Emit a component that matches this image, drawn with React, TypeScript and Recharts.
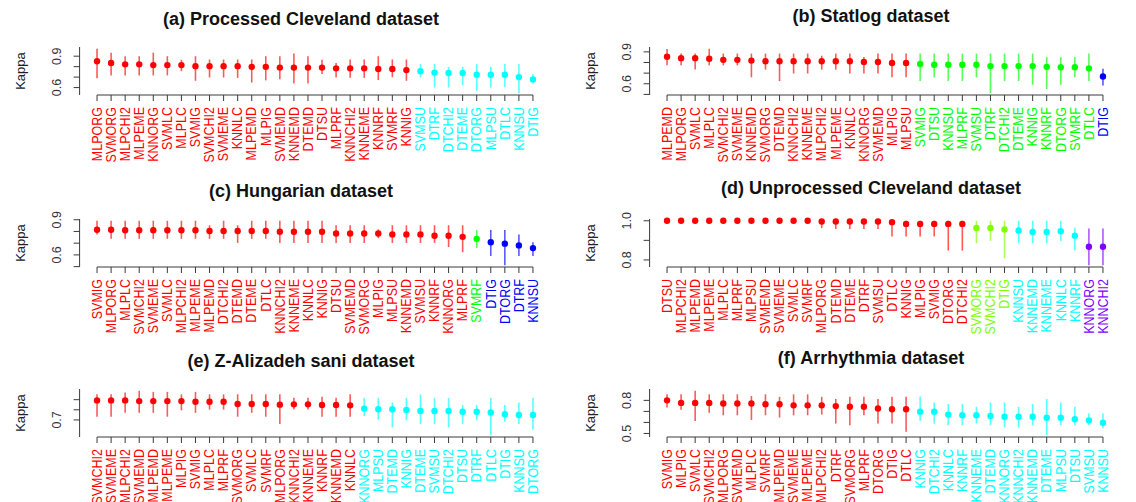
import { ScatterChart, Scatter, XAxis, YAxis, ErrorBar, ReferenceLine } from "recharts";

const FONT = "'Liberation Sans', Arial, Helvetica, sans-serif";
const AXIS = "#3a3a3a";
const RED = "#ff0000";
const GREEN = "#00ff00";
const BLUE = "#0000ff";
const CYAN = "#00ffff";
const CHARTREUSE = "#80ff00";
const PURPLE = "#8000ff";

// (a) Processed Cleveland
const namesA = ["MLPORG", "SVMORG", "MLPCHI2", "MLPEME", "KNNORG", "SVMLC", "MLPLC", "SVMIG", "SVMCHI2", "SVMEME", "KNNLC", "MLPEMD", "MLPIG", "SVMEMD", "KNNEMD", "DTEMD", "DTSU", "MLPRF", "KNNCHI2", "KNNEME", "KNNRF", "SVMRF", "KNNIG", "SVMSU", "DTRF", "DTCHI2", "DTEME", "DTORG", "MLPSU", "DTLC", "KNNSU", "DTIG"];
const kappaA = [0.852, 0.835, 0.822, 0.822, 0.815, 0.815, 0.815, 0.805, 0.805, 0.805, 0.805, 0.798, 0.798, 0.791, 0.791, 0.791, 0.791, 0.784, 0.784, 0.784, 0.778, 0.778, 0.767, 0.757, 0.743, 0.74, 0.74, 0.723, 0.723, 0.723, 0.7, 0.678];
const highA = [0.971, 0.934, 0.9, 0.9, 0.934, 0.9, 0.866, 0.9, 0.869, 0.869, 0.869, 0.869, 0.9, 0.9, 0.927, 0.9, 0.866, 0.835, 0.869, 0.869, 0.9, 0.869, 0.869, 0.825, 0.825, 0.798, 0.798, 0.825, 0.798, 0.825, 0.826, 0.73];
const lowA = [0.689, 0.716, 0.716, 0.716, 0.716, 0.716, 0.757, 0.665, 0.696, 0.696, 0.693, 0.648, 0.669, 0.679, 0.638, 0.638, 0.73, 0.696, 0.693, 0.693, 0.672, 0.699, 0.665, 0.696, 0.6, 0.6, 0.621, 0.57, 0.6, 0.603, 0.546, 0.64];
const sizesA = [23, 9];

// (b) Statlog
const namesB = ["MLPEMD", "MLPORG", "SVMLC", "MLPLC", "SVMCHI2", "SVMEME", "KNNEMD", "SVMORG", "DTEMD", "KNNCHI2", "KNNEME", "MLPCHI2", "MLPEME", "KNNLC", "KNNORG", "SVMEMD", "MLPIG", "MLPSU", "SVMIG", "DTSU", "KNNSU", "MLPRF", "SVMSU", "DTRF", "DTCHI2", "DTEME", "KNNIG", "KNNRF", "DTORG", "SVMRF", "DTLC", "DTIG"];
const kappaB = [0.854, 0.841, 0.841, 0.835, 0.825, 0.825, 0.818, 0.812, 0.812, 0.812, 0.812, 0.812, 0.812, 0.812, 0.805, 0.805, 0.795, 0.795, 0.786, 0.779, 0.779, 0.779, 0.779, 0.766, 0.766, 0.766, 0.766, 0.759, 0.756, 0.756, 0.745, 0.668];
const highB = [0.926, 0.884, 0.884, 0.929, 0.884, 0.884, 0.884, 0.884, 0.884, 0.884, 0.884, 0.864, 0.884, 0.884, 0.851, 0.884, 0.884, 0.884, 0.884, 0.884, 0.884, 0.884, 0.884, 0.884, 0.884, 0.884, 0.884, 0.851, 0.851, 0.851, 0.884, 0.74];
const lowB = [0.773, 0.773, 0.733, 0.773, 0.773, 0.773, 0.661, 0.733, 0.625, 0.697, 0.697, 0.733, 0.733, 0.697, 0.697, 0.697, 0.661, 0.661, 0.625, 0.661, 0.625, 0.625, 0.661, 0.511, 0.625, 0.625, 0.59, 0.55, 0.59, 0.661, 0.625, 0.583];
const sizesB = [18, 13, 1];

// (c) Hungarian
const namesC = ["SVMIG", "MLPORG", "MLPLC", "SVMCHI2", "SVMEME", "SVMLC", "MLPCHI2", "MLPEME", "MLPEMD", "DTCHI2", "DTEMD", "DTEME", "DTLC", "KNNCHI2", "KNNEME", "KNNLC", "KNNIG", "DTSU", "SVMEMD", "SVMORG", "MLPIG", "MLPSU", "KNNEMD", "SVMSU", "KNNRF", "KNNORG", "MLPRF", "SVMRF", "DTIG", "DTORG", "DTRF", "KNNSU"];
const kappaC = [0.815, 0.815, 0.81, 0.81, 0.81, 0.81, 0.81, 0.81, 0.804, 0.804, 0.804, 0.804, 0.804, 0.798, 0.798, 0.798, 0.798, 0.783, 0.783, 0.783, 0.783, 0.775, 0.775, 0.775, 0.763, 0.763, 0.754, 0.737, 0.708, 0.696, 0.681, 0.658];
const highC = [0.891, 0.891, 0.891, 0.891, 0.891, 0.891, 0.891, 0.891, 0.853, 0.891, 0.853, 0.891, 0.891, 0.891, 0.891, 0.891, 0.891, 0.853, 0.853, 0.853, 0.818, 0.853, 0.853, 0.853, 0.853, 0.853, 0.853, 0.813, 0.813, 0.813, 0.775, 0.708];
const lowC = [0.775, 0.737, 0.737, 0.737, 0.737, 0.737, 0.737, 0.737, 0.737, 0.737, 0.702, 0.737, 0.737, 0.702, 0.702, 0.702, 0.702, 0.702, 0.702, 0.702, 0.743, 0.702, 0.702, 0.702, 0.702, 0.667, 0.623, 0.658, 0.591, 0.512, 0.591, 0.591];
const sizesC = [27, 1, 4];

// (d) Unprocessed Cleveland
const namesD = ["DTSU", "MLPCHI2", "MLPEMD", "MLPEME", "MLPLC", "MLPRF", "MLPSU", "SVMEMD", "SVMEME", "SVMLC", "SVMRF", "MLPORG", "DTEMD", "DTEME", "DTRF", "SVMSU", "DTLC", "KNNIG", "MLPIG", "SVMIG", "DTORG", "DTCHI2", "SVMORG", "SVMCHI2", "DTIG", "KNNSU", "KNNEMD", "KNNEME", "KNNLC", "KNNRF", "KNNORG", "KNNCHI2"];
const kappaD = [1, 1, 1, 1, 1, 1, 1, 1, 1, 1, 1, 0.996, 0.996, 0.996, 0.996, 0.996, 0.993, 0.984, 0.984, 0.984, 0.984, 0.984, 0.963, 0.963, 0.956, 0.95, 0.943, 0.943, 0.947, 0.924, 0.867, 0.867];
const highD = [1, 1, 1, 1, 1, 1, 1, 1, 1, 1, 1, 1, 1, 1, 1, 1, 1, 1, 1, 1, 1, 1, 1, 1, 1, 1, 1, 1, 1, 0.965, 0.96, 0.96];
const lowD = [1, 1, 1, 1, 1, 1, 1, 1, 1, 1, 1, 0.963, 0.958, 0.958, 0.958, 0.958, 0.92, 0.92, 0.92, 0.92, 0.848, 0.848, 0.885, 0.897, 0.809, 0.885, 0.885, 0.885, 0.897, 0.848, 0.773, 0.773];
const sizesD = [22, 3, 5, 2];

// (e) Z-Alizadeh sani
const namesE = ["SVMCHI2", "SVMEME", "MLPCHI2", "SVMEMD", "MLPEMD", "MLPEME", "MLPIG", "SVMIG", "MLPLC", "MLPRF", "SVMORG", "SVMLC", "SVMRF", "MLPORG", "KNNCHI2", "KNNEME", "KNNRF", "KNNEMD", "KNNLC", "KNNORG", "MLPSU", "DTEMD", "KNNIG", "DTEME", "SVMSU", "DTCHI2", "DTSU", "DTRF", "DTLC", "DTIG", "KNNSU", "DTORG"];
const kappaE = [0.893, 0.893, 0.893, 0.886, 0.886, 0.886, 0.886, 0.879, 0.879, 0.879, 0.858, 0.858, 0.858, 0.851, 0.854, 0.854, 0.847, 0.847, 0.844, 0.812, 0.805, 0.805, 0.798, 0.788, 0.788, 0.788, 0.781, 0.781, 0.774, 0.756, 0.749, 0.749];
const highE = [0.953, 0.953, 0.97, 0.988, 0.977, 0.977, 0.953, 0.977, 0.953, 0.953, 0.953, 0.953, 0.953, 0.953, 0.918, 0.918, 0.928, 0.918, 0.953, 0.918, 0.918, 0.872, 0.918, 0.953, 0.918, 0.918, 0.847, 0.847, 0.918, 0.847, 0.872, 0.918];
const lowE = [0.732, 0.732, 0.77, 0.77, 0.77, 0.732, 0.795, 0.77, 0.802, 0.802, 0.732, 0.77, 0.732, 0.661, 0.802, 0.802, 0.732, 0.732, 0.732, 0.739, 0.704, 0.626, 0.696, 0.661, 0.661, 0.626, 0.661, 0.696, 0.549, 0.682, 0.661, 0.602];
const sizesE = [19, 13];

// (f) Arrhythmia
const namesF = ["SVMIG", "MLPIG", "SVMLC", "SVMCHI2", "MLPORG", "SVMEMD", "MLPLC", "SVMRF", "MLPEMD", "SVMEME", "MLPEME", "MLPCHI2", "DTRF", "SVMORG", "MLPRF", "DTORG", "DTIG", "DTLC", "KNNIG", "DTCHI2", "KNNLC", "KNNRF", "KNNEME", "DTEMD", "KNNORG", "KNNCHI2", "KNNEMD", "DTEME", "MLPSU", "DTSU", "SVMSU", "KNNSU"];
const kappaF = [0.8, 0.777, 0.777, 0.777, 0.771, 0.771, 0.771, 0.765, 0.765, 0.755, 0.755, 0.755, 0.748, 0.742, 0.742, 0.726, 0.719, 0.719, 0.697, 0.697, 0.671, 0.665, 0.665, 0.658, 0.652, 0.652, 0.652, 0.642, 0.642, 0.629, 0.619, 0.597];
const highF = [0.855, 0.855, 0.887, 0.855, 0.855, 0.855, 0.839, 0.855, 0.832, 0.855, 0.855, 0.832, 0.813, 0.832, 0.832, 0.813, 0.832, 0.832, 0.832, 0.781, 0.768, 0.768, 0.742, 0.781, 0.781, 0.742, 0.768, 0.813, 0.781, 0.742, 0.684, 0.684];
const lowF = [0.735, 0.716, 0.613, 0.687, 0.665, 0.665, 0.623, 0.665, 0.645, 0.665, 0.665, 0.671, 0.59, 0.574, 0.665, 0.59, 0.59, 0.516, 0.613, 0.59, 0.574, 0.574, 0.59, 0.574, 0.555, 0.555, 0.574, 0.484, 0.574, 0.574, 0.574, 0.548];
const sizesF = [18, 14];

const ticksA = [0.6, 0.7, 0.8, 0.9];
const ticksB = [0.5, 0.6, 0.7, 0.8, 0.9];
const ticksD = [0.8, 0.9, 1.0];
const ticksE = [0.7, 0.8, 0.9];
const ticksF = [0.5, 0.6, 0.7, 0.8];

type Panel = {
  title: string;
  names: string[];
  kappa: number[];
  high: number[];
  low: number[];
  sizes: number[];
  colors: string[];
  ticks: number[];
  labeled: string[];
  col: number;
  row: number;
};

const panels: Panel[] = [
  { title: "(a) Processed Cleveland dataset", names: namesA, kappa: kappaA, high: highA, low: lowA, sizes: sizesA, colors: [RED, CYAN], ticks: ticksA, labeled: ["0.6", "0.9"], col: 0, row: 0 },
  { title: "(b) Statlog dataset", names: namesB, kappa: kappaB, high: highB, low: lowB, sizes: sizesB, colors: [RED, GREEN, BLUE], ticks: ticksB, labeled: ["0.6", "0.9"], col: 1, row: 0 },
  { title: "(c) Hungarian dataset", names: namesC, kappa: kappaC, high: highC, low: lowC, sizes: sizesC, colors: [RED, GREEN, BLUE], ticks: ticksB, labeled: ["0.6", "0.9"], col: 0, row: 1 },
  { title: "(d) Unprocessed Cleveland dataset", names: namesD, kappa: kappaD, high: highD, low: lowD, sizes: sizesD, colors: [RED, CHARTREUSE, CYAN, PURPLE], ticks: ticksD, labeled: ["0.8", "1.0"], col: 1, row: 1 },
  { title: "(e) Z-Alizadeh sani dataset", names: namesE, kappa: kappaE, high: highE, low: lowE, sizes: sizesE, colors: [RED, CYAN], ticks: ticksE, labeled: ["0.7"], col: 0, row: 2 },
  { title: "(f) Arrhythmia dataset", names: namesF, kappa: kappaF, high: highF, low: lowF, sizes: sizesF, colors: [RED, CYAN], ticks: ticksF, labeled: ["0.5", "0.8"], col: 1, row: 2 },
];

const COL_X = [0, 570];
const ROW_Y = [0, 172, 342];
const TITLE_Y = [19, 15.5];
const PANEL_W = 568;
const PANEL_H = 172;
const PLOT_LEFT = 79.6;
const PLOT_RIGHT = 550.4;
const PLOT_TOP = 47;
const PLOT_BOTTOM = 95;

function PanelChart({ p }: { p: Panel }) {
  const n = p.names.length;
  const lo = Math.min(...p.low);
  const hi = Math.max(...p.high);
  const pad = (hi - lo) * 0.04;
  const yDomain = [lo - pad, hi + pad];
  const xPad = (n - 1) * 0.04;
  const xDomain = [-xPad, n - 1 + xPad];
  const idx = p.names.map((_, i) => i);

  const colorOf: string[] = [];
  let start = 0;
  const groups = p.sizes.map((size, g) => {
    const pts = [];
    for (let i = start; i < start + size; i++) {
      colorOf[i] = p.colors[g];
      pts.push({ x: i, y: p.kappa[i], err: [p.kappa[i] - p.low[i], p.high[i] - p.kappa[i]] });
    }
    start += size;
    return { color: p.colors[g], pts };
  });

  const XTick = (props: any) => {
    const { x, y, payload } = props;
    const i = payload.value;
    return (
      <g transform={`translate(${x},${y})`}>
        <text
          transform="rotate(-90) scale(1,1.12)"
          textAnchor="end"
          dominantBaseline="central"
          fontSize={12.5}
          fontFamily={FONT}
          fill={colorOf[i]}
        >
          {p.names[i]}
        </text>
      </g>
    );
  };

  const YTick = (props: any) => {
    const { x, y, payload } = props;
    const label = Number(payload.value).toFixed(1);
    if (!p.labeled.includes(label)) return <g />;
    return (
      <text
        transform={`translate(${x - 15},${y}) rotate(-90)`}
        textAnchor="middle"
        dominantBaseline="central"
        fontSize={12.5}
        fontFamily={FONT}
        fill="#333"
      >
        {label}
      </text>
    );
  };

  return (
    <ScatterChart
      width={PANEL_W}
      height={PANEL_H}
      margin={{ top: PLOT_TOP, right: PANEL_W - PLOT_RIGHT, bottom: 0, left: 0 }}
    >
      <XAxis
        type="number"
        dataKey="x"
        domain={xDomain}
        ticks={idx}
        interval={0}
        tickSize={6}
        tickMargin={6}
        axisLine={false}
        tickLine={{ stroke: AXIS }}
        height={PANEL_H - PLOT_BOTTOM}
        tick={XTick}
      />
      <YAxis
        type="number"
        dataKey="y"
        domain={yDomain}
        ticks={p.ticks}
        interval={0}
        width={PLOT_LEFT}
        tickSize={6}
        axisLine={{ stroke: AXIS }}
        tickLine={{ stroke: AXIS }}
        tick={YTick}
      />
      <ReferenceLine
        segment={[{ x: 0, y: yDomain[0] }, { x: n - 1, y: yDomain[0] }]}
        stroke={AXIS}
        ifOverflow="visible"
      />
      {groups.map((g, k) => (
        <Scatter
          key={k}
          data={g.pts}
          fill={g.color}
          isAnimationActive={false}
          shape={(s: any) => <circle cx={s.cx} cy={s.cy} r={3.2} fill={g.color} />}
        >
          <ErrorBar
            dataKey="err"
            direction="y"
            width={0}
            stroke={g.color}
            strokeWidth={1.6}
            strokeOpacity={0.65}
            isAnimationActive={false}
          />
        </Scatter>
      ))}
    </ScatterChart>
  );
}

export default function App() {
  return (
    <div
      style={{
        position: "absolute",
        left: 0,
        top: 0,
        width: 1136,
        height: 502,
        overflow: "hidden",
        background: "#fff",
        fontFamily: FONT,
      }}
    >
      {panels.map((p, i) => (
        <div key={i}>
          <div style={{ position: "absolute", left: COL_X[p.col], top: ROW_Y[p.row] }}>
            <PanelChart p={p} />
          </div>
          <div
            style={{
              position: "absolute",
              left: COL_X[p.col] + 301 - 250,
              width: 500,
              top: ROW_Y[p.row] + TITLE_Y[p.col] - 10,
              height: 20,
              lineHeight: "20px",
              textAlign: "center",
              fontWeight: "bold",
              fontSize: 18,
              color: "#111",
            }}
          >
            {p.title}
          </div>
          <div
            style={{
              position: "absolute",
              left: COL_X[p.col] + 20,
              top: ROW_Y[p.row] + (PLOT_TOP + PLOT_BOTTOM) / 2,
              transform: "translate(-50%, -50%) rotate(-90deg)",
              fontSize: 13,
              whiteSpace: "nowrap",
              color: "#222",
            }}
          >
            Kappa
          </div>
        </div>
      ))}
    </div>
  );
}
